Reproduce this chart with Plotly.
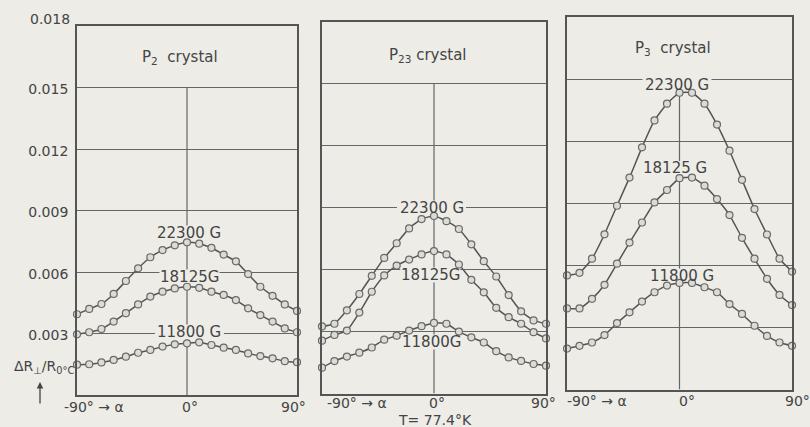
import plotly.graph_objects as go

# Magnetoresistance ratio vs. field angle, three crystals, T = 77.4 K
alpha = [-90, -80, -70, -60, -50, -40, -30, -20, -10, 0,
         10, 20, 30, 40, 50, 60, 70, 80, 90]

p2_22300 = [0.00394, 0.00420, 0.00444, 0.00493, 0.00556, 0.00618, 0.00672, 0.00707, 0.00730, 0.00745,
            0.00738, 0.00718, 0.00685, 0.00652, 0.00590, 0.00528, 0.00484, 0.00442, 0.00410]
p2_18125 = [0.00296, 0.00306, 0.00322, 0.00358, 0.00399, 0.00442, 0.00480, 0.00504, 0.00520, 0.00528,
            0.00523, 0.00504, 0.00488, 0.00463, 0.00423, 0.00390, 0.00358, 0.00325, 0.00306]
p2_11800 = [0.00148, 0.00150, 0.00159, 0.00171, 0.00187, 0.00206, 0.00220, 0.00236, 0.00247, 0.00252,
            0.00257, 0.00244, 0.00231, 0.00220, 0.00203, 0.00190, 0.00179, 0.00165, 0.00160]

p23_22300 = [0.00325, 0.00338, 0.00403, 0.00482, 0.00570, 0.00657, 0.00728, 0.00800, 0.00845, 0.00860,
             0.00835, 0.00797, 0.00723, 0.00641, 0.00567, 0.00477, 0.00398, 0.00354, 0.00338]
p23_18125 = [0.00256, 0.00284, 0.00305, 0.00392, 0.00493, 0.00572, 0.00620, 0.00649, 0.00674, 0.00690,
             0.00674, 0.00625, 0.00551, 0.00490, 0.00415, 0.00370, 0.00338, 0.00297, 0.00267]
p23_11800 = [0.00125, 0.00157, 0.00179, 0.00198, 0.00223, 0.00261, 0.00280, 0.00305, 0.00326, 0.00342,
             0.00338, 0.00300, 0.00272, 0.00247, 0.00205, 0.00175, 0.00158, 0.00143, 0.00135]

p3_22300 = [0.00551, 0.00564, 0.00632, 0.00750, 0.00888, 0.01024, 0.01170, 0.01300, 0.01381, 0.01434,
            0.01434, 0.01381, 0.01280, 0.01154, 0.01013, 0.00872, 0.00749, 0.00632, 0.00570]
p3_18125 = [0.00392, 0.00392, 0.00438, 0.00506, 0.00608, 0.00710, 0.00807, 0.00904, 0.00964, 0.01021,
            0.01024, 0.00985, 0.00920, 0.00843, 0.00733, 0.00632, 0.00535, 0.00457, 0.00408]
p3_11800 = [0.00198, 0.00211, 0.00227, 0.00263, 0.00321, 0.00373, 0.00425, 0.00470, 0.00502, 0.00515,
            0.00515, 0.00494, 0.00470, 0.00413, 0.00365, 0.00308, 0.00259, 0.00227, 0.00211]

panel_titles = ["P<sub>2</sub>  crystal", "P<sub>23</sub> crystal", "P<sub>3</sub>  crystal"]
series = [
    [p2_22300, p2_18125, p2_11800],
    [p23_22300, p23_18125, p23_11800],
    [p3_22300, p3_18125, p3_11800],
]
curve_labels = [
    ["22300 G", "18125G", "11800 G"],
    ["22300 G", "18125G", "11800G"],
    ["22300 G", "18125 G", "11800 G"],
]
# label anchor (alpha, value) for each curve label
label_pos = [
    [(2, 0.00790), (2, 0.00576), (2, 0.00307)],
    [(-2, 0.00899), (-3, 0.00574), (-2, 0.00250)],
    [(-2, 0.01470), (-4, 0.01068), (2, 0.00549)],
]

y_ticks = [0.003, 0.006, 0.009, 0.012, 0.015, 0.018]
y_tick_text = ["0.003", "0.006", "0.009", "0.012", "0.015", "0.018"]
x_tick_text = ["-90° → α", "0°", "90°"]
temperature_text = "T= 77.4°K"
y_title = "ΔR<sub>⊥</sub>/R<sub>0°C</sub>"

W, H = 810, 427
PAPER = "rgb(237,236,231)"
INK = "#444444"
LINE = "#555555"
GRID = "#666666"
FONT = "DejaVu Sans"
LABEL_SIZE = 15

# panel frames in page pixels: left, right, top(0.018), bottom(0)
frames = [(77, 297, 26, 395), (322, 546, 22, 393.5), (567, 792, 17, 389.5)]

fig = go.Figure()
layout_axes = {}
shapes = []
annotations = []

for i, (frame, data, labels, lpos, title) in enumerate(
        zip(frames, series, curve_labels, label_pos, panel_titles)):
    l, r, t, b = frame
    xn = "x" if i == 0 else f"x{i+1}"
    yn = "y" if i == 0 else f"y{i+1}"
    xk = "xaxis" if i == 0 else f"xaxis{i+1}"
    yk = "yaxis" if i == 0 else f"yaxis{i+1}"
    layout_axes[xk] = dict(
        domain=[l / W, r / W], range=[-90, 90], anchor=yn, automargin=False,
        showgrid=False, zeroline=False, showticklabels=False, ticks="",
        showline=True, mirror=True, linecolor=LINE, linewidth=1.7,
    )
    # the top value (0.018) sits on the frame; its label is set separately above the corner
    layout_axes[yk] = dict(
        domain=[1 - b / H, 1 - t / H], range=[0, 0.018], anchor=xn, automargin=False,
        tickvals=y_ticks[:-1], ticktext=y_tick_text[:-1], showticklabels=(i == 0),
        ticks="", ticklabelstandoff=4, ticklabelshift=2,
        tickfont=dict(family=FONT, size=14, color=INK),
        showgrid=True, gridcolor=GRID, gridwidth=1.2, zeroline=False,
        showline=True, mirror=True, linecolor=LINE, linewidth=1.7,
    )
    # vertical reference line at alpha = 0 below the title strip
    shapes.append(dict(type="line", xref=xn, yref=yn, x0=0, x1=0, y0=0, y1=0.015,
                       line=dict(color=GRID, width=1.2), layer="below"))

    for vals in data:
        fig.add_trace(go.Scatter(
            x=alpha, y=vals, xaxis=xn, yaxis=yn, mode="lines+markers",
            line=dict(color=LINE, width=1.5, shape="spline", smoothing=0.5),
            marker=dict(symbol="circle", size=7, color="#dcdcd6",
                        line=dict(color="#6a6a6a", width=1.2)),
            cliponaxis=False, showlegend=False, hoverinfo="skip",
        ))

    # curve labels: a paper-coloured patch interrupts grid lines, curves stay on top
    deg_per_px = 180.0 / (r - l)
    val_per_px = 0.018 / (b - t)
    for text, (lx, ly) in zip(labels, lpos):
        half_w = (len(text) * 0.6 * LABEL_SIZE) / 2 + 3
        half_h = 7.5
        shapes.append(dict(type="rect", xref=xn, yref=yn, layer="between",
                           x0=lx - half_w * deg_per_px, x1=lx + half_w * deg_per_px,
                           y0=ly - half_h * val_per_px, y1=ly + half_h * val_per_px,
                           fillcolor=PAPER, line=dict(width=0)))
        annotations.append(dict(
            x=lx, y=ly, xref=xn, yref=yn, text=text, showarrow=False,
            font=dict(family=FONT, size=LABEL_SIZE, color=INK),
            xanchor="center", yanchor="middle",
        ))

    # panel title
    title_y = [57, 55, 48][i]
    title_x = [180, 428, 673][i]
    annotations.append(dict(
        x=title_x / W, y=1 - title_y / H, xref="paper", yref="paper",
        text=title, showarrow=False, xanchor="center", yanchor="middle",
        font=dict(family=FONT, size=15, color=INK),
    ))

# label for the top of the value scale
annotations.append(dict(x=72 / W, y=1 - 19 / H, xref="paper", yref="paper",
                        text=y_tick_text[-1], showarrow=False, xanchor="right", yanchor="middle",
                        font=dict(family=FONT, size=14, color=INK)))

# angle labels under each panel: (left of "-90° → α", centre of "0°", centre of "90°", y)
x_label_px = [(62, 190, 293, 407), (325, 437, 543, 403), (565, 687, 797, 401)]
for (lft, zero, ninety, ypx) in x_label_px:
    annotations.append(dict(x=lft / W, y=1 - ypx / H, xref="paper", yref="paper",
                            text=x_tick_text[0], showarrow=False, xanchor="left", yanchor="middle",
                            font=dict(family=FONT, size=14, color=INK)))
    annotations.append(dict(x=zero / W, y=1 - ypx / H, xref="paper", yref="paper",
                            text=x_tick_text[1], showarrow=False, xanchor="center", yanchor="middle",
                            font=dict(family=FONT, size=14, color=INK)))
    annotations.append(dict(x=ninety / W, y=1 - ypx / H, xref="paper", yref="paper",
                            text=x_tick_text[2], showarrow=False, xanchor="center", yanchor="middle",
                            font=dict(family=FONT, size=14, color=INK)))

annotations.append(dict(x=435 / W, y=1 - 420 / H, xref="paper", yref="paper",
                        text=temperature_text, showarrow=False, xanchor="center", yanchor="middle",
                        font=dict(family=FONT, size=14, color=INK)))

# y quantity and its upward arrow
annotations.append(dict(x=76 / W, y=1 - 367 / H, xref="paper", yref="paper",
                        text=y_title, showarrow=False, xanchor="right", yanchor="middle",
                        font=dict(family=FONT, size=14, color=INK)))
annotations.append(dict(x=40 / W, y=1 - 382 / H, xref="paper", yref="paper",
                        text="", showarrow=True, ax=0, ay=23, arrowhead=2, arrowsize=1,
                        arrowwidth=1.3, arrowcolor=INK))

fig.update_layout(
    width=W, height=H, margin=dict(l=0, r=0, t=0, b=0),
    paper_bgcolor=PAPER, plot_bgcolor=PAPER,
    shapes=shapes, annotations=annotations, showlegend=False,
    **layout_axes,
)

fig.write_html("out.html")
